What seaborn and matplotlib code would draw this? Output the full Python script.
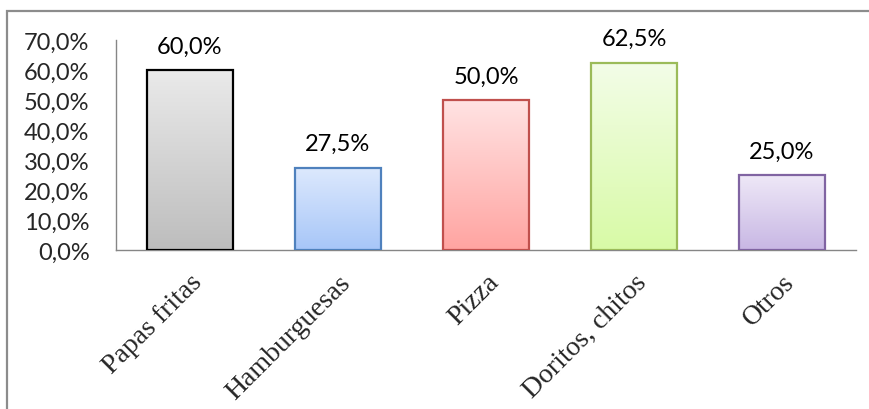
import numpy as np
import pandas as pd
import matplotlib
matplotlib.use("Agg")
import matplotlib.pyplot as plt
import seaborn as sns
from matplotlib.colors import LinearSegmentedColormap
from matplotlib.patches import Rectangle

categories = ["Papas fritas", "Hamburguesas", "Pizza", "Doritos, chitos", "Otros"]
values = [0.600, 0.275, 0.500, 0.625, 0.250]
value_labels = ["60,0%", "27,5%", "50,0%", "62,5%", "25,0%"]
ytick_values = [0.0, 0.1, 0.2, 0.3, 0.4, 0.5, 0.6, 0.7]
ytick_labels = ["0,0%", "10,0%", "20,0%", "30,0%", "40,0%", "50,0%", "60,0%", "70,0%"]

top_colors = ["#EAEAEA", "#DDE9FD", "#FFE3E3", "#F3FDE8", "#EEE8F7"]
bottom_colors = ["#BDBDBD", "#A7C6F8", "#FFA4A1", "#D8FAA6", "#C8B7E4"]
edge_colors = ["#000000", "#4F81BD", "#C0504D", "#9BBB59", "#8064A2"]

sns.set_theme(style="white")
plt.rcParams["font.family"] = ["Lato", "DejaVu Sans"]

fig = plt.figure(figsize=(8.69, 4.10), dpi=100)
ax = fig.add_axes([116/869, 1 - 251/410, (856 - 116)/869, 210/410])

df = pd.DataFrame({"cat": categories, "val": values})
sns.barplot(data=df, x="cat", y="val", ax=ax, width=0.575, color="white",
            edgecolor="black", linewidth=1.6, zorder=3)

for i, p in enumerate(ax.patches):
    x0, y0 = p.get_x(), p.get_y()
    w, h = p.get_width(), p.get_height()
    cmap = LinearSegmentedColormap.from_list(f"g{i}", [bottom_colors[i], top_colors[i]])
    grad = np.linspace(0, 1, 256).reshape(-1, 1)
    im = ax.imshow(grad, cmap=cmap, origin="lower", aspect="auto",
                   extent=[x0, x0 + w, y0, y0 + h], zorder=2, interpolation="bicubic")
    im.set_clip_path(p)
    p.set_facecolor("none")
    p.set_edgecolor(edge_colors[i])
    ax.text(x0 + w / 2, y0 + h + 0.045, value_labels[i], ha="center", va="bottom",
            fontsize=17, color="black")

ax.set_xlim(-0.5, len(categories) - 0.5)
ax.set_ylim(0, 0.7)
ax.set_yticks(ytick_values)
ax.set_yticklabels(ytick_labels, fontsize=17)
ax.set_xticks(range(len(categories)))
ax.set_xticklabels(categories, rotation=45, ha="right", va="top",
                   rotation_mode="anchor", fontsize=20, family="Liberation Serif")
ax.tick_params(axis="both", length=0)
ax.tick_params(axis="y", pad=19)
ax.tick_params(axis="x", pad=14)
ax.set_xlabel("")
ax.set_ylabel("")
for s in ["top", "right"]:
    ax.spines[s].set_visible(False)
for s in ["left", "bottom"]:
    ax.spines[s].set_color("#868686")
    ax.spines[s].set_linewidth(1.0)

fig.patches.append(Rectangle((7.5/869, -0.1), 2.0, 1.1 - 11.5/410,
                             transform=fig.transFigure, fill=False,
                             edgecolor="#8C8C8C", linewidth=1.6))

fig.savefig("out.png", dpi=100)
